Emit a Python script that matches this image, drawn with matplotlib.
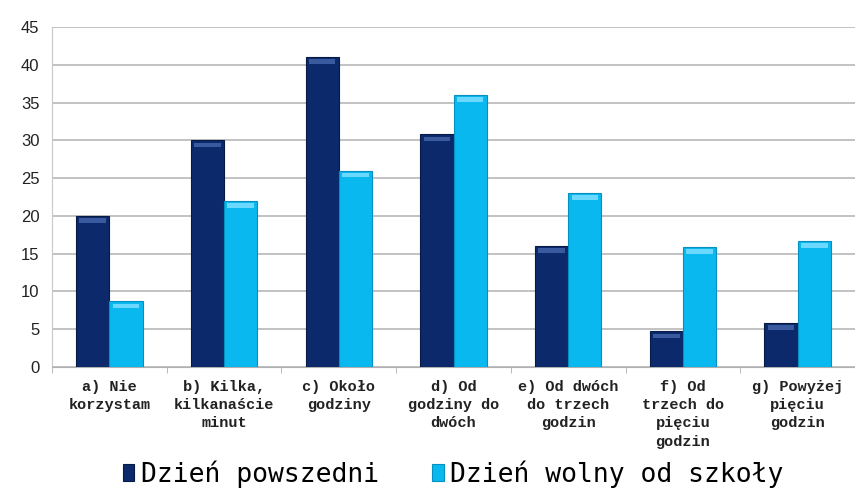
import matplotlib.pyplot as plt
import numpy as np

categories = ["a) Nie\nkorzystam", "b) Kilka,\nkilkanaście\nminut", "c) Około\ngodziny",
              "d) Od\ngodziny do\ndwóch", "e) Od dwóch\ndo trzech\ngodzin",
              "f) Od\ntrzech do\npięciu\ngodzin", "g) Powyżej\npięciu\ngodzin"]
weekday = [20, 30, 41, 30.8, 16, 4.7, 5.8]
day_off = [8.7, 22, 26, 36, 23, 15.9, 16.7]
series_names = ["Dzień powszedni", "Dzień wolny od szkoły"]
colors = ["#0c2a6b", "#0ab8f0"]
edge_colors = ["#061a45", "#0690c0"]

fig = plt.figure(figsize=(8.55, 4.97), dpi=100)
ax = fig.add_axes([52 / 855, 1 - 367 / 497, 1 - 52 / 855, (367 - 27) / 497])

x = np.arange(len(categories))
w = 0.29
b1 = ax.bar(x - w / 2, weekday, w, color=colors[0], edgecolor=edge_colors[0], linewidth=0.8,
            label=series_names[0], zorder=3)
b2 = ax.bar(x + w / 2, day_off, w, color=colors[1], edgecolor=edge_colors[1], linewidth=0.8,
            label=series_names[1], zorder=3)

# lighter bevel strip on top of each bar
for bars, c in [(b1, "#3a5aa0"), (b2, "#6ad8ff")]:
    for r in bars:
        ax.bar(r.get_x() + r.get_width() / 2, 0.6, r.get_width() * 0.8,
               bottom=r.get_height() - 0.9, color=c, zorder=4, linewidth=0)

ax.set_xlim(-0.5, 6.455)
ax.set_ylim(0, 45)
ax.set_yticks(range(0, 46, 5))
ax.yaxis.grid(True, color="#b8b8b8", linewidth=1.2, zorder=0)
ax.tick_params(axis="y", length=0, pad=9, labelsize=12, labelcolor="#222222")
for lbl in ax.get_yticklabels():
    lbl.set_family("Liberation Sans")

ax.set_xticks(x)
ax.set_xticklabels(categories, family="Liberation Mono", fontweight="bold",
                   fontsize=11, linespacing=1.4, color="#222222")
ax.tick_params(axis="x", length=0, pad=9)
ax.set_xticks(np.arange(-0.5, 7, 1), minor=True)
ax.tick_params(axis="x", which="minor", length=4, color="#b0b0b0", direction="out")

for s in ["top", "right"]:
    ax.spines[s].set_visible(False)
ax.spines["left"].set_color("#c8c8c8")
ax.spines["bottom"].set_color("#b0b0b0")

fig.legend(handles=[b1, b2], loc="center", bbox_to_anchor=(0.53, 1 - 474 / 497), ncol=2,
           frameon=False, prop={"family": "DejaVu Sans Mono", "size": 19},
           handlelength=0.45, handleheight=0.6, handletextpad=0.25, columnspacing=2.0)

fig.savefig("out.png", dpi=100)
